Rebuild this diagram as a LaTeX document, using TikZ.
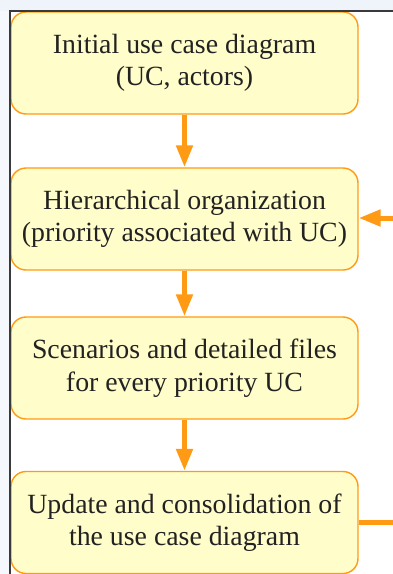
\documentclass[tikz,border=0pt]{standalone}
\usepackage{fontspec}
\setmainfont{Liberation Serif}
\usetikzlibrary{arrows.meta}
\definecolor{boxfill}{HTML}{FFFDC9}
\definecolor{boxline}{HTML}{FF9A14}
\definecolor{frameline}{HTML}{3A3A3A}
\definecolor{paleband}{HTML}{EEF4FA}
\definecolor{textcol}{HTML}{222222}
\tikzset{
  stepbox/.style={draw=boxline, line width=1.4pt, fill=boxfill, rounded corners=15pt,
    minimum width=347pt, minimum height=102pt, inner sep=0pt, align=center,
    text=textcol, font=\fontsize{27.8}{32.5}\selectfont},
  flow/.style={draw=boxline, line width=5pt, -{Triangle[length=22pt,width=16pt]}},
  plainflow/.style={draw=boxline, line width=5pt},
  frame/.style={draw=frameline, line width=2pt}
}
\begin{document}
\begin{tikzpicture}[x=1pt,y=-1pt]
  \useasboundingbox (0,0) rectangle (393,574);
  % pale margin strips
  \fill[paleband] (0,0) rectangle (393,10.5);
  \fill[paleband!60!white] (0,10.5) rectangle (9.5,574);

  % process steps
  \node[stepbox] (s1) at (184.5,63)  {Initial use case diagram\\(UC, actors)};
  \node[stepbox] (s2) at (184.5,219) {Hierarchical organization\\(priority associated with UC)};
  \node[stepbox] (s3) at (184.5,368) {Scenarios and detailed files\\for every priority UC};
  \node[stepbox] (s4) at (184.5,522.5) {Update and consolidation of\\the use case diagram};

  % loose ends at the right border
  \coordinate (inR)  at (393,218);
  \coordinate (outR) at (393,522);

  % connectors
  \draw[flow] (s1.south) -- (s2.north);
  \draw[flow] (s2.south) -- (s3.north);
  \draw[flow] (s3.south) -- (s4.north);
  \draw[plainflow] (s4.east |- outR) -- (outR);
  \draw[flow] (inR) -- (s2.east |- inR);

  % frame lines
  \coordinate (tl) at (10,11);
  \coordinate (tr) at (393,11);
  \coordinate (bl) at (10,574);
  \draw[frame] (bl) -- (tl) -- (tr);
\end{tikzpicture}
\end{document}
